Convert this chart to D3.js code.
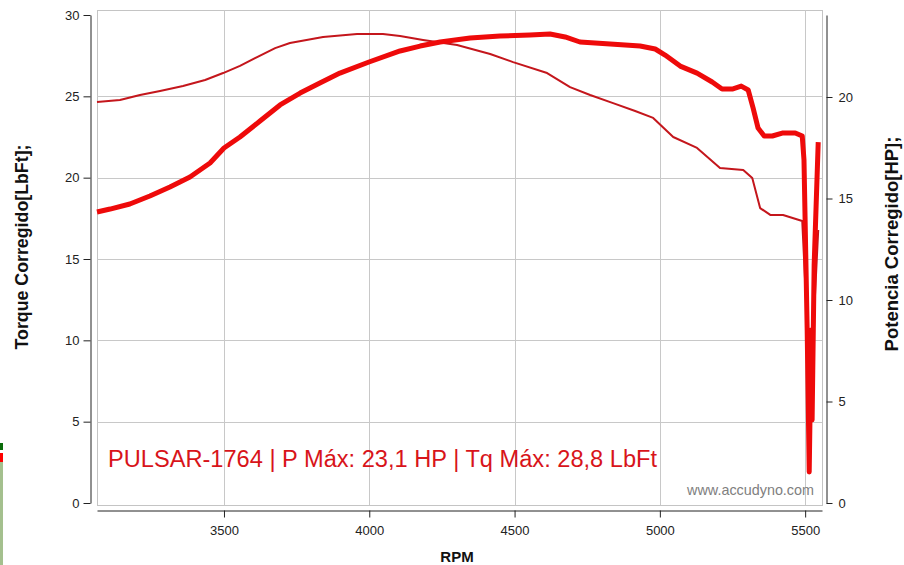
<!DOCTYPE html>
<html>
<head>
<meta charset="utf-8">
<script src="https://cdn.jsdelivr.net/npm/d3@7"></script>
<style>
  html, body { margin: 0; padding: 0; background: #fff; }
  svg { display: block; font-family: "Liberation Sans", Arial, sans-serif; }
</style>
</head>
<body>
<div id="chart"></div>
<script>
// --- Data ---
const torqueRpm = [3063, 3108, 3176, 3245, 3314, 3383, 3452, 3500, 3555, 3624, 3693, 3762, 3830, 3899,
  3999, 4106, 4175, 4244, 4347, 4450, 4553, 4622, 4674, 4725, 4829, 4932, 4984, 5018, 5070, 5128,
  5180, 5214, 5249, 5280, 5304, 5321, 5338, 5359, 5387, 5424, 5466, 5490, 5496, 5507, 5514, 5521,
  5524, 5531, 5545];
const torqueVal = [17.89, 18.07, 18.38, 18.87, 19.43, 20.04, 20.90, 21.82, 22.50, 23.48, 24.47, 25.20, 25.82, 26.43,
  27.11, 27.79, 28.09, 28.34, 28.59, 28.71, 28.77, 28.83, 28.65, 28.34, 28.22, 28.09, 27.91, 27.54, 26.86, 26.43,
  25.88, 25.45, 25.45, 25.63, 25.39, 24.28, 23.05, 22.56, 22.56, 22.75, 22.75, 22.56, 21.09, 10.64, 1.91, 10.64,
  5.10, 14.63, 22.19];

const powerRpm = [3063, 3142, 3211, 3280, 3359, 3435, 3497, 3555, 3614, 3676, 3727, 3841, 3958, 4047,
  4106, 4185, 4302, 4416, 4495, 4612, 4691, 4760, 4839, 4915, 4977, 5046, 5128, 5207, 5287, 5318,
  5345, 5380, 5424, 5490, 5503, 5517, 5528, 5545];
const powerVal = [19.75, 19.85, 20.10, 20.30, 20.54, 20.84, 21.18, 21.53, 21.97, 22.41, 22.66, 22.96, 23.10, 23.10,
  23.00, 22.81, 22.56, 22.12, 21.72, 21.18, 20.49, 20.10, 19.70, 19.31, 18.97, 18.03, 17.49, 16.50, 16.40, 16.01,
  14.53, 14.19, 14.19, 13.89, 10.00, 2.12, 8.52, 13.45];

const rpmTicks = [3500, 4000, 4500, 5000, 5500];
const torqueTicks = [0, 5, 10, 15, 20, 25, 30];
const powerTicks = [0, 5, 10, 15, 20];

const legendText = "PULSAR-1764 | P Máx: 23,1 HP | Tq Máx: 28,8 LbFt";

// --- Layout ---
const width = 904, height = 565;
const plot = { left: 97, right: 822, top: 10, bottom: 505 };

const svg = d3.select("#chart").append("svg")
  .attr("width", width).attr("height", height);

// --- Scales ---
const x = d3.scaleLinear().domain([3063, 5558]).range([plot.left, plot.right]);
const yL = d3.scaleLinear().domain([0, 30]).range([503, 15]);
const yR = d3.scaleLinear().domain([0, 24.04]).range([503, 15]);

// squeeze/stretch a text node to the width measured on the sheet
function fitWidth(sel, base, target) {
  const w = sel.node().getComputedTextLength();
  sel.attr("font-size", (base * target / w).toFixed(2) + "px");
}

// --- Plot frame & grid ---
svg.append("rect")
  .attr("x", plot.left + 0.5).attr("y", plot.top + 0.5)
  .attr("width", plot.right - plot.left).attr("height", plot.bottom - plot.top)
  .attr("fill", "#fff").attr("stroke", "#c4c4c4");

svg.append("g").selectAll("line")
  .data(rpmTicks).join("line")
  .attr("x1", d => Math.round(x(d)) + 0.5).attr("x2", d => Math.round(x(d)) + 0.5)
  .attr("y1", plot.top).attr("y2", plot.bottom)
  .attr("stroke", "#c8c8c8");

svg.append("g").selectAll("line")
  .data(torqueTicks.filter(d => d > 0 && d < 30)).join("line")
  .attr("x1", plot.left).attr("x2", plot.right)
  .attr("y1", d => Math.round(yL(d)) + 0.5).attr("y2", d => Math.round(yL(d)) + 0.5)
  .attr("stroke", "#c8c8c8");

// --- Axes ---
function styleAxis(g) {
  g.select(".domain").attr("stroke", "#222");
  g.selectAll(".tick line").attr("stroke", "#222");
  g.selectAll("text").attr("fill", "#222").attr("font-size", "13px")
    .attr("font-family", "'Liberation Sans', Arial, sans-serif");
}

svg.append("g")
  .attr("transform", "translate(90.5,0)")
  .call(d3.axisLeft(yL).tickValues(torqueTicks).tickSize(7).tickSizeOuter(0).tickPadding(4))
  .call(styleAxis);

svg.append("g")
  .attr("transform", "translate(826.5,0)")
  .call(d3.axisRight(yR).tickValues(powerTicks).tickSize(6).tickSizeOuter(0).tickPadding(6))
  .call(styleAxis);

svg.append("g")
  .attr("transform", "translate(0,510.5)")
  .call(d3.axisBottom(x).tickValues(rpmTicks).tickSize(7).tickSizeOuter(0).tickPadding(8)
    .tickFormat(d3.format("d")))
  .call(styleAxis);

// --- Axis titles ---
const leftTitle = svg.append("text")
  .attr("transform", "translate(28,247) rotate(-90)")
  .attr("text-anchor", "middle")
  .attr("font-size", "15px").attr("font-weight", "bold").attr("fill", "#111")
  .text("Torque Corregido[LbFt];");
fitWidth(leftTitle, 15, 205);

const rightTitle = svg.append("text")
  .attr("transform", "translate(898,244) rotate(-90)")
  .attr("text-anchor", "middle")
  .attr("font-size", "15px").attr("font-weight", "bold").attr("fill", "#111")
  .text("Potencia Corregido[HP];");
fitWidth(rightTitle, 15, 215);

svg.append("text")
  .attr("x", 457).attr("y", 562)
  .attr("text-anchor", "middle")
  .attr("font-size", "15px").attr("font-weight", "bold").attr("fill", "#111")
  .text("RPM");

// --- Curves ---
const torqueLine = d3.line()
  .x((d, i) => x(torqueRpm[i]))
  .y(d => yL(d));

const powerLine = d3.line()
  .x((d, i) => x(powerRpm[i]))
  .y(d => yR(d));

svg.append("path")
  .datum(powerVal)
  .attr("d", powerLine)
  .attr("fill", "none")
  .attr("stroke", "#c4161c")
  .attr("stroke-width", 2)
  .attr("stroke-linejoin", "round");

svg.append("path")
  .datum(torqueVal)
  .attr("d", torqueLine)
  .attr("fill", "none")
  .attr("stroke", "#ee0a0a")
  .attr("stroke-width", 5)
  .attr("stroke-linejoin", "round");

// --- Labels inside plot ---
const legend = svg.append("text")
  .attr("x", 108).attr("y", 467)
  .attr("font-size", "19px").attr("fill", "#d8141a")
  .text(legendText);
fitWidth(legend, 19, 549);

const mark = svg.append("text")
  .attr("x", 814).attr("y", 495)
  .attr("text-anchor", "end")
  .attr("font-size", "12px").attr("fill", "#808080")
  .text("www.accudyno.com");
fitWidth(mark, 12, 127);

// --- Stray marks at the left edge of the screenshot ---
svg.append("rect").attr("x", 0).attr("y", 443).attr("width", 3).attr("height", 7).attr("fill", "#0a6b0a");
svg.append("rect").attr("x", 0).attr("y", 453).attr("width", 3).attr("height", 9).attr("fill", "#ff0000");
svg.append("rect").attr("x", 0).attr("y", 462).attr("width", 3).attr("height", 103).attr("fill", "#a4c08e");
</script>
</body>
</html>
